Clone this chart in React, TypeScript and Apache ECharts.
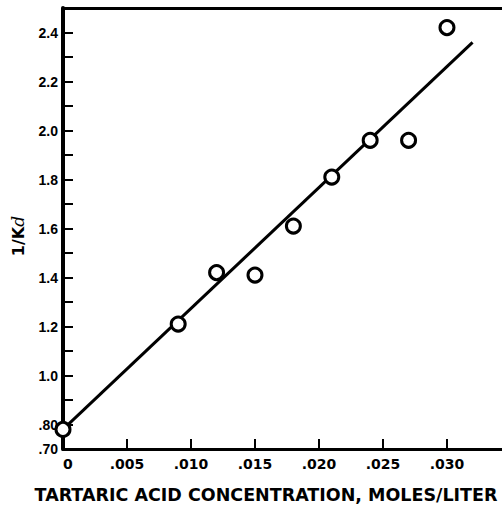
import React, { useEffect, useRef } from "react";
import * as echarts from "echarts";

const concentration = [0, 0.009, 0.012, 0.015, 0.018, 0.021, 0.024, 0.027, 0.03];
const invKd = [0.78, 1.21, 1.42, 1.41, 1.61, 1.81, 1.96, 1.96, 2.42];
const fitX = [0, 0.032];
const fitY = [0.78, 2.36];
const yLabeled = [7, 8, 10, 12, 14, 16, 18, 20, 22, 24];
const xTitle = "TARTARIC ACID CONCENTRATION, MOLES/LITER";

export default function App() {
  const ref = useRef<HTMLDivElement>(null);
  useEffect(() => {
    if (!ref.current) return;
    const chart = echarts.init(ref.current, null, { renderer: "svg" });
    const axisFontY = { fontFamily: "Liberation Sans", fontWeight: "bold", fontSize: 14, color: "#000" };
    chart.setOption({
      animation: false,
      backgroundColor: "#fff",
      grid: { left: 63, right: 0, top: 8, bottom: 58, containLabel: false },
      xAxis: [
        {
          type: "value",
          min: 0,
          max: 0.0343,
          interval: 0.005,
          axisLine: { show: true, onZero: false, lineStyle: { color: "#000", width: 3 } },
          axisTick: { show: true, inside: true, length: 10, lineStyle: { color: "#000", width: 2 } },
          splitLine: { show: false },
          axisLabel: {
            showMaxLabel: false,
            alignMinLabel: "left",
            margin: 8,
            fontFamily: "DejaVu Sans",
            fontWeight: "bold",
            fontSize: 14,
            color: "#000",
            formatter: (v: number) => {
              const k = Math.round(v * 1000);
              if (k === 0) return "0";
              if (k > 30) return "";
              return "." + String(k).padStart(3, "0");
            },
          },
        },
        {
          type: "value",
          position: "top",
          min: 0,
          max: 0.0343,
          axisLine: { show: true, onZero: false, lineStyle: { color: "#000", width: 3 } },
          axisTick: { show: false },
          axisLabel: { show: false },
          splitLine: { show: false },
        },
      ],
      yAxis: {
        type: "value",
        min: 0.7,
        max: 2.5,
        interval: 0.1,
        axisLine: { show: true, onZero: false, lineStyle: { color: "#000", width: 4 } },
        axisTick: { show: true, inside: true, length: 10, lineStyle: { color: "#000", width: 2 } },
        splitLine: { show: false },
        axisLabel: {
          showMaxLabel: false,
          margin: 5,
          ...axisFontY,
          formatter: (v: number) => {
            const k = Math.round(v * 10);
            if (!yLabeled.includes(k)) return "";
            if (k < 10) return "." + k + "0";
            return (k / 10).toFixed(1);
          },
        },
      },
      graphic: [
        {
          type: "text",
          x: 266,
          y: 495,
          style: {
            text: xTitle,
            fontFamily: "DejaVu Sans",
            fontWeight: "bold",
            fontSize: 17.5,
            fill: "#000",
            align: "center",
            verticalAlign: "middle",
          },
        },
        {
          type: "text",
          x: 18,
          y: 236,
          rotation: Math.PI / 2,
          style: {
            text: "{a|1/K}{b|d}",
            align: "center",
            verticalAlign: "middle",
            rich: {
              a: { fontFamily: "DejaVu Sans", fontWeight: "bold", fontSize: 16, fill: "#000" },
              b: { fontFamily: "DejaVu Serif", fontStyle: "italic", fontSize: 17, fill: "#000" },
            },
          },
        },
      ],
      series: [
        {
          type: "line",
          data: fitX.map((x, i) => [x, fitY[i]]),
          symbol: "none",
          lineStyle: { color: "#000", width: 3 },
          z: 2,
        },
        {
          type: "scatter",
          data: concentration.map((x, i) => [x, invKd[i]]),
          symbol: "circle",
          symbolSize: 14,
          clip: false,
          itemStyle: { color: "#fff", borderColor: "#000", borderWidth: 3, opacity: 1 },
          z: 3,
        },
      ],
    });
    return () => chart.dispose();
  }, []);
  return <div ref={ref} style={{ position: "absolute", left: 0, top: 0, width: 502, height: 507 }} />;
}
